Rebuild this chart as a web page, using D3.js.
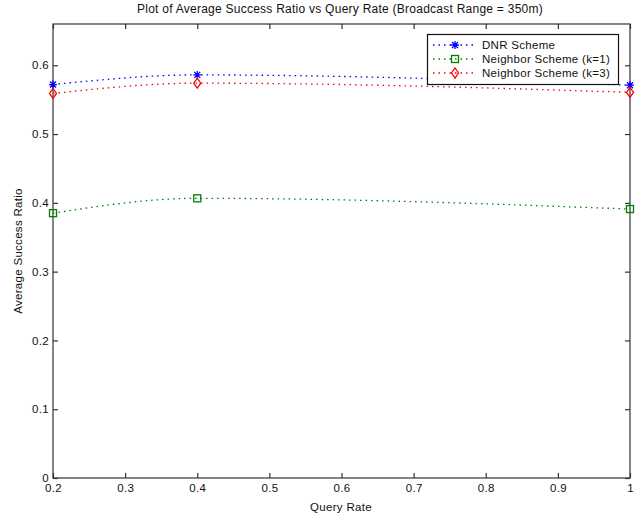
<!DOCTYPE html>
<html><head><meta charset="utf-8">
<script src="https://cdn.jsdelivr.net/npm/d3@7"></script>
<style>body{margin:0;background:#fff}svg{display:block}text{font-family:"Liberation Sans",Arial,sans-serif;fill:#111}</style>
</head><body>
<script>
const queryRates = [0.2, 0.4, 1.0];
const dnrValues = [0.572, 0.586, 0.571];
const neighborK1Values = [0.385, 0.4066, 0.391];
const neighborK3Values = [0.559, 0.574, 0.5606];
const seriesNames = ["DNR Scheme", "Neighbor Scheme (k=1)", "Neighbor Scheme (k=3)"];
const xTicks = [0.2, 0.3, 0.4, 0.5, 0.6, 0.7, 0.8, 0.9, 1];
const yTicks = [0, 0.1, 0.2, 0.3, 0.4, 0.5, 0.6];

const W = 639, H = 517;
const m = {left: 53, right: 9, top: 24, bottom: 39};
const svg = d3.select("body").append("svg").attr("width", W).attr("height", H);
const x = d3.scaleLinear().domain([0.2, 1]).range([m.left, W - m.right]);
const y = d3.scaleLinear().domain([0, 0.66]).range([H - m.bottom, m.top]);

const axisColor = "#333";
svg.append("rect").attr("x", x(0.2)).attr("y", y(0.66)).attr("width", x(1) - x(0.2)).attr("height", y(0) - y(0.66))
  .attr("fill", "none").attr("stroke", axisColor).attr("stroke-width", 1.2);

const fmt = d => d === 0 ? "0" : d === 1 ? "1" : d3.format(".1f")(d);
const tl = 5;
const gx = svg.append("g").attr("transform", `translate(0,${y(0)})`)
  .call(d3.axisBottom(x).tickValues(xTicks).tickSizeInner(-tl).tickSizeOuter(0).tickPadding(8).tickFormat(fmt));
const gxt = svg.append("g").attr("transform", `translate(0,${y(0.66)})`)
  .call(d3.axisTop(x).tickValues(xTicks).tickSizeInner(-tl).tickSizeOuter(0).tickFormat(""));
const gy = svg.append("g").attr("transform", `translate(${x(0.2)},0)`)
  .call(d3.axisLeft(y).tickValues(yTicks).tickSizeInner(-tl).tickSizeOuter(0).tickPadding(4).tickFormat(fmt));
const gyr = svg.append("g").attr("transform", `translate(${x(1)},0)`)
  .call(d3.axisRight(y).tickValues(yTicks).tickSizeInner(-tl).tickSizeOuter(0).tickFormat(""));
[gx, gxt, gy, gyr].forEach(g => {
  g.select(".domain").remove();
  g.selectAll("line").attr("stroke", axisColor).attr("stroke-width", 1.2);
  g.selectAll("text").attr("font-size", 11.5).attr("letter-spacing", 0.3).attr("font-family", '"Liberation Sans",Arial,sans-serif').attr("fill", "#111");
});
gx.selectAll("text").attr("dy", "0.55em");

svg.append("text").attr("x", 340).attr("y", 13).attr("text-anchor", "middle").attr("font-size", 12).attr("letter-spacing", 0.25)
  .text("Plot of Average Success Ratio vs Query Rate (Broadcast Range = 350m)");
svg.append("text").attr("x", 341).attr("y", 511).attr("text-anchor", "middle").attr("font-size", 11.5).attr("letter-spacing", 0.3).text("Query Rate");
svg.append("text").attr("transform", `translate(22,${(y(0) + y(0.66)) / 2}) rotate(-90)`).attr("text-anchor", "middle")
  .attr("font-size", 11.5).attr("letter-spacing", 0.3).text("Average Success Ratio");

const colors = ["#0000ff", "#008000", "#ff0000"];
const allValues = [dnrValues, neighborK1Values, neighborK3Values];
const line = d3.line().x(d => x(d[0])).y(d => y(d[1])).curve(d3.curveMonotoneX);

function marker(g, type, cx, cy, color) {
  const s = 4;
  if (type === 0) {
    const p = `M${cx - s},${cy}H${cx + s}M${cx},${cy - s}V${cy + s}M${cx - s * 0.75},${cy - s * 0.75}L${cx + s * 0.75},${cy + s * 0.75}M${cx - s * 0.75},${cy + s * 0.75}L${cx + s * 0.75},${cy - s * 0.75}`;
    g.append("path").attr("d", p).attr("stroke", color).attr("stroke-width", 1.3).attr("fill", "none");
  } else if (type === 1) {
    g.append("rect").attr("x", cx - 3.5).attr("y", cy - 3.5).attr("width", 7).attr("height", 7)
      .attr("fill", "none").attr("stroke", color).attr("stroke-width", 1.3);
  } else {
    g.append("path").attr("d", `M${cx},${cy - 5}L${cx + 3.5},${cy}L${cx},${cy + 5}L${cx - 3.5},${cy}Z`)
      .attr("fill", "none").attr("stroke", color).attr("stroke-width", 1.3);
  }
}

allValues.forEach((vals, i) => {
  const pts = queryRates.map((q, j) => [q, vals[j]]);
  svg.append("path").attr("d", line(pts)).attr("fill", "none").attr("stroke", colors[i])
    .attr("stroke-width", 1.3).attr("stroke-dasharray", "1.5,4");
  const g = svg.append("g");
  pts.forEach(p => marker(g, i, x(p[0]), y(p[1]), colors[i]));
});

const lg = svg.append("g");
lg.append("rect").attr("x", 427.5).attr("y", 34.5).attr("width", 191).attr("height", 50)
  .attr("fill", "#fff").attr("stroke", "#111").attr("stroke-width", 1.2);
seriesNames.forEach((name, i) => {
  const ly = 45 + i * 14;
  lg.append("line").attr("x1", 433).attr("x2", 476).attr("y1", ly).attr("y2", ly)
    .attr("stroke", colors[i]).attr("stroke-width", 1.3).attr("stroke-dasharray", "1.5,4");
  marker(lg, i, 455, ly, colors[i]);
  lg.append("text").attr("x", 482).attr("y", ly + 4).attr("font-size", 11.5).attr("letter-spacing", 0.3).text(name);
});
</script>
</body></html>
